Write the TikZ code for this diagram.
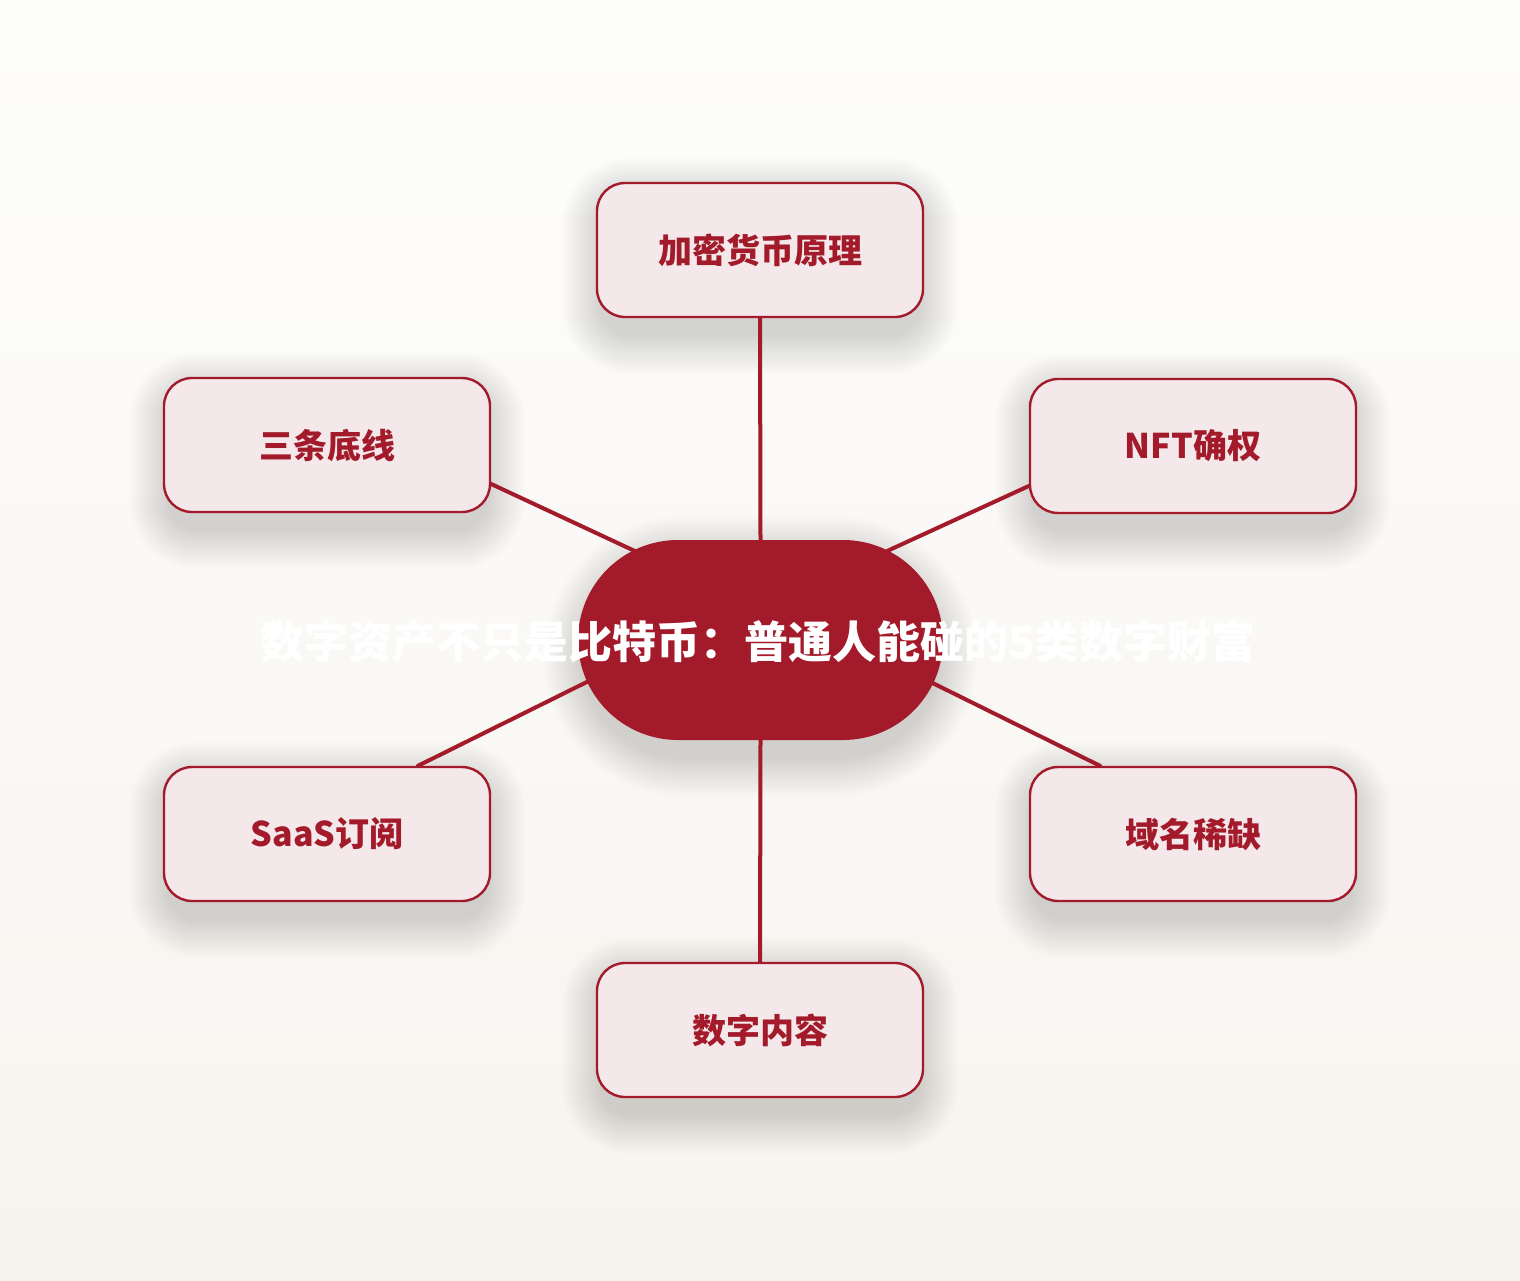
\documentclass[tikz,border=0pt]{standalone}
\usepackage{fontspec}
\newfontfamily\cjk{Noto Sans CJK SC}
\usetikzlibrary{calc}
\definecolor{dred}{HTML}{A31A2A}
\definecolor{boxfill}{HTML}{F4E8EA}
\definecolor{bgtop}{HTML}{FDFDFC}
\definecolor{bgbot}{HTML}{F7F4EF}
\pgfdeclarelayer{bg}
\pgfdeclarelayer{shadow}
\pgfdeclarelayer{lines}
\pgfsetlayers{bg,shadow,lines,main}
\tikzset{
  topic/.style={draw=dred, line width=1.2pt, fill=boxfill, rounded corners=14pt,
    minimum width=163pt, minimum height=67pt, inner sep=0pt,
    font=\cjk\bfseries\fontsize{17pt}{20pt}\selectfont, text=dred},
  hub/.style={fill=dred, rounded corners=50pt, minimum width=182.5pt,
    minimum height=100pt, inner sep=0pt},
  title/.style={font=\cjk\bfseries\fontsize{22pt}{26pt}\selectfont, text=white, inner sep=0pt},
  link/.style={draw=dred, line width=2pt, line cap=round},
}
\newcommand{\softshadow}[2]{%
  \foreach \i in {1,...,20}{%
    \fill[black, opacity=0.009, rounded corners=#2+\i*1pt]
      ($(#1.north west)+(-\i*2+6,-\i*2+16)$) rectangle ($(#1.south east)+(\i*2-6,\i*2+16)$);
  }}
\begin{document}
\begin{tikzpicture}[x=0.5pt,y=-0.5pt]
\useasboundingbox (0,0) rectangle (1520,1280);
\begin{pgfonlayer}{bg}
  \shade[top color=bgtop, bottom color=bgbot] (0,0) rectangle (1520,1280);
\end{pgfonlayer}

\node[hub] (c) at (760.5,640) {};
\node[topic] (n1) at (760,250) {\raisebox{-2pt}{加密货币原理}};
\node[topic] (n2) at (327,445) {\raisebox{-2pt}{三条底线}};
\node[topic] (n3) at (1193,446) {\raisebox{-2pt}{NFT确权}};
\node[topic] (n4) at (327,834) {\raisebox{-2pt}{SaaS订阅}};
\node[topic] (n5) at (1193,834) {\raisebox{-2pt}{域名稀缺}};
\node[topic] (n6) at (760,1030) {\raisebox{-2pt}{数字内容}};
\node[title] (t) at (758,642) {数字资产不只是比特币：普通人能碰的5类数字财富};

\begin{pgfonlayer}{shadow}
  \softshadow{c}{50pt}
  \softshadow{n1}{14pt}
  \softshadow{n2}{14pt}
  \softshadow{n3}{14pt}
  \softshadow{n4}{14pt}
  \softshadow{n5}{14pt}
  \softshadow{n6}{14pt}
\end{pgfonlayer}

\coordinate (k2) at ($(c.center)+(-70,-63)$);
\coordinate (k3) at ($(c.center)+(70,-63)$);
\coordinate (k4) at ($(c.center)+(-75,-7)$);
\coordinate (k5) at ($(c.center)+(75,-5)$);
\begin{pgfonlayer}{lines}
  \draw[link] (n1.south) -- (c.north);
  \draw[link] (c.south) -- (n6.north);
  \draw[link] ($(n2.east)+(0,39)$) -- (k2);
  \draw[link] ($(n3.west)+(0,40)$) -- (k3);
  \draw[link] ($(n4.north)+(91,0)$) -- (k4);
  \draw[link] ($(n5.north)+(-93,0)$) -- (k5);
\end{pgfonlayer}
\end{tikzpicture}
\end{document}
